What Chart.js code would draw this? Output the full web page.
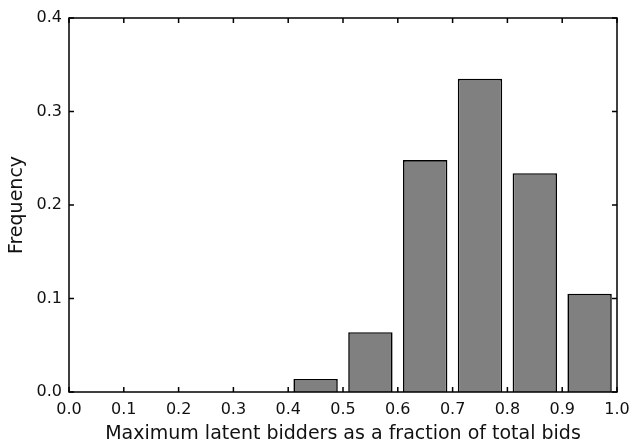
<!DOCTYPE html>
<html>
<head>
<meta charset="utf-8">
<script src="https://cdn.jsdelivr.net/npm/chart.js@4"></script>
<style>
  html, body { margin: 0; padding: 0; background: #fff; }
  #wrap { width: 631px; height: 445px; }
</style>
</head>
<body>
<div id="wrap"><canvas id="hist"></canvas></div>
<script>
// bin centres (fraction of total bids) and frequencies
const binCenters = [0.45, 0.55, 0.65, 0.75, 0.85, 0.95];
const frequencies = [0.014, 0.064, 0.248, 0.335, 0.234, 0.105];
const xTicks = [0.0, 0.1, 0.2, 0.3, 0.4, 0.5, 0.6, 0.7, 0.8, 0.9, 1.0];
const yTicks = [0.0, 0.1, 0.2, 0.3, 0.4];

const xLabel = 'Maximum latent bidders as a fraction of total bids';
const yLabel = 'Frequency';

// box round the plot + inward ticks on all four sides
const frameAndTicks = {
    id: 'frameAndTicks',
    afterDatasetsDraw(chart) {
        const ctx = chart.ctx;
        const a = chart.chartArea;
        const xs = chart.scales.x, ys = chart.scales.y;
        const len = 5;
        ctx.save();
        ctx.strokeStyle = '#000';
        ctx.lineWidth = 1.5;
        ctx.beginPath();
        xTicks.forEach(v => {
            const px = xs.getPixelForValue(v);
            ctx.moveTo(px, a.bottom); ctx.lineTo(px, a.bottom - len);
            ctx.moveTo(px, a.top); ctx.lineTo(px, a.top + len);
        });
        yTicks.forEach(v => {
            const py = ys.getPixelForValue(v);
            ctx.moveTo(a.left, py); ctx.lineTo(a.left + len, py);
            ctx.moveTo(a.right, py); ctx.lineTo(a.right - len, py);
        });
        ctx.stroke();
        ctx.strokeRect(a.left, a.top, a.right - a.left, a.bottom - a.top);
        ctx.restore();
    }
};

const font = '"DejaVu Sans", sans-serif';

new Chart(document.getElementById('hist').getContext('2d'), {
    type: 'bar',
    data: {
        datasets: [{
            data: binCenters.map((x, i) => ({ x: x, y: frequencies[i] })),
            backgroundColor: '#808080',
            borderColor: '#000',
            borderWidth: 1.6,
            barPercentage: 0.81,
            categoryPercentage: 1.0
        }]
    },
    options: {
        responsive: true,
        maintainAspectRatio: false,
        animation: false,
        layout: { padding: { top: 18, right: 14, left: 0, bottom: 0 } },
        plugins: { legend: { display: false }, tooltip: { enabled: false } },
        scales: {
            x: {
                type: 'linear',
                offset: false,
                min: 0, max: 1,
                afterBuildTicks: s => { s.ticks = xTicks.map(v => ({ value: v })); },
                afterFit: s => { s.height = 53; s.paddingLeft = 0; s.paddingRight = 0; },
                grid: { display: false, drawTicks: false },
                border: { display: false },
                ticks: {
                    color: '#111',
                    padding: 8,
                    font: { family: font, size: 16 },
                    maxRotation: 0,
                    callback: v => v.toFixed(1)
                },
                title: {
                    display: true,
                    text: xLabel,
                    color: '#111',
                    font: { family: font, size: 19 },
                    padding: { top: 1, bottom: 0 }
                }
            },
            y: {
                min: 0, max: 0.4,
                afterBuildTicks: s => { s.ticks = yTicks.map(v => ({ value: v })); },
                afterFit: s => { s.width = 69; s.paddingTop = 0; s.paddingBottom = 0; },
                grid: { display: false, drawTicks: false },
                border: { display: false },
                ticks: {
                    color: '#111',
                    padding: 7,
                    font: { family: font, size: 16 },
                    callback: v => v.toFixed(1)
                },
                title: {
                    display: true,
                    text: yLabel,
                    color: '#111',
                    font: { family: font, size: 19 },
                    padding: { top: 6, bottom: 0 }
                }
            }
        }
    },
    plugins: [frameAndTicks]
});
</script>
</body>
</html>
